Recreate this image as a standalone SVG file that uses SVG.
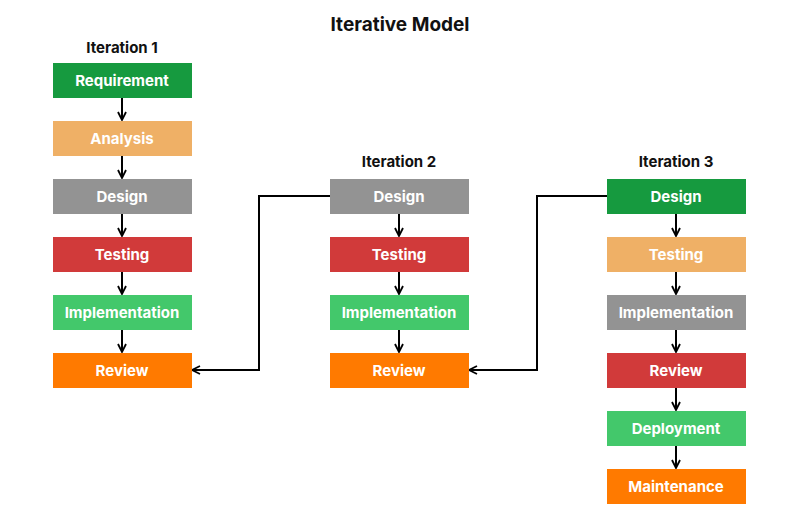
<svg xmlns="http://www.w3.org/2000/svg" width="800" height="519" viewBox="0 0 800 519">
<defs>
<marker id="ah" viewBox="0 0 10 10" refX="9" refY="5" markerWidth="10" markerHeight="10" markerUnits="userSpaceOnUse" orient="auto">
<path d="M1,1 L9,5 L1,9" fill="none" stroke="#000" stroke-width="1.8"/>
</marker>
<style>
text{font-family:Inter,"Liberation Sans",sans-serif;font-weight:700;text-anchor:middle}
.l{fill:#fff;font-size:15px}
.h{fill:#111;font-size:15px}
.c{stroke:#000;stroke-width:2;fill:none;marker-end:url(#ah)}
.dg{fill:#169A3F}.lo{fill:#EFB066}.gr{fill:#939393}.rd{fill:#D13A3A}.lg{fill:#43C86B}.or{fill:#FF7A00}
</style>
</defs>
<rect width="800" height="519" fill="#fff"/>
<text x="400" y="31" class="h" style="font-size:19px">Iterative Model</text>
<text x="122" y="53" class="h">Iteration 1</text>
<text x="399" y="167" class="h">Iteration 2</text>
<text x="676" y="167" class="h">Iteration 3</text>
<g id="connectors">
<path class="c" d="M122,98 V120"/><path class="c" d="M122,156 V178"/><path class="c" d="M122,214 V236"/><path class="c" d="M122,272 V294"/><path class="c" d="M122,330 V352"/>
<path class="c" d="M399,214 V236"/><path class="c" d="M399,272 V294"/><path class="c" d="M399,330 V352"/>
<path class="c" d="M676,214 V236"/><path class="c" d="M676,272 V294"/><path class="c" d="M676,330 V352"/><path class="c" d="M676,388 V410"/><path class="c" d="M676,446 V468"/>
<path class="c" d="M330,196 H259 V370 H192"/>
<path class="c" d="M607,196 H537 V370 H469"/>
</g>
<g id="n1"><rect x="53" y="63" width="139" height="35" class="dg"/><text x="122" y="86" class="l">Requirement</text></g>
<g id="n2"><rect x="53" y="121" width="139" height="35" class="lo"/><text x="122" y="144" class="l">Analysis</text></g>
<g id="n3"><rect x="53" y="179" width="139" height="35" class="gr"/><text x="122" y="202" class="l">Design</text></g>
<g id="n4"><rect x="53" y="237" width="139" height="35" class="rd"/><text x="122" y="260" class="l">Testing</text></g>
<g id="n5"><rect x="53" y="295" width="139" height="35" class="lg"/><text x="122" y="318" class="l">Implementation</text></g>
<g id="n6"><rect x="53" y="353" width="139" height="35" class="or"/><text x="122" y="376" class="l">Review</text></g>
<g id="m1"><rect x="330" y="179" width="139" height="35" class="gr"/><text x="399" y="202" class="l">Design</text></g>
<g id="m2"><rect x="330" y="237" width="139" height="35" class="rd"/><text x="399" y="260" class="l">Testing</text></g>
<g id="m3"><rect x="330" y="295" width="139" height="35" class="lg"/><text x="399" y="318" class="l">Implementation</text></g>
<g id="m4"><rect x="330" y="353" width="139" height="35" class="or"/><text x="399" y="376" class="l">Review</text></g>
<g id="k1"><rect x="607" y="179" width="139" height="35" class="dg"/><text x="676" y="202" class="l">Design</text></g>
<g id="k2"><rect x="607" y="237" width="139" height="35" class="lo"/><text x="676" y="260" class="l">Testing</text></g>
<g id="k3"><rect x="607" y="295" width="139" height="35" class="gr"/><text x="676" y="318" class="l">Implementation</text></g>
<g id="k4"><rect x="607" y="353" width="139" height="35" class="rd"/><text x="676" y="376" class="l">Review</text></g>
<g id="k5"><rect x="607" y="411" width="139" height="35" class="lg"/><text x="676" y="434" class="l">Deployment</text></g>
<g id="k6"><rect x="607" y="469" width="139" height="35" class="or"/><text x="676" y="492" class="l">Maintenance</text></g>
</svg>
